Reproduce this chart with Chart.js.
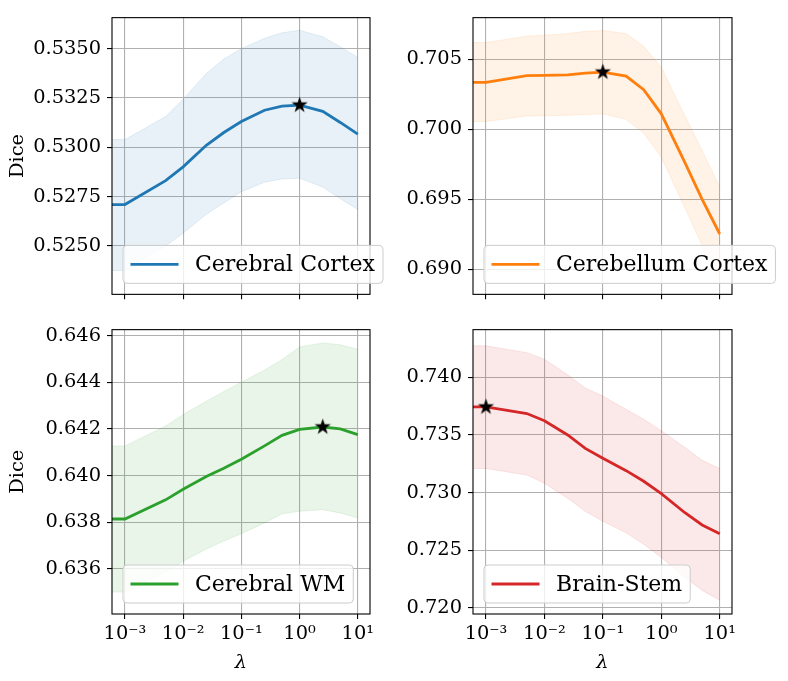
<!DOCTYPE html>
<html>
<head>
<meta charset="utf-8">
<script src="https://cdn.jsdelivr.net/npm/chart.js@4.4.1/dist/chart.umd.min.js"></script>
<style>
  html, body { margin:0; padding:0; background:#fff; }
  #fig { position:relative; width:788px; height:681px; overflow:hidden; }
  #fig canvas { position:absolute; }
</style>
</head>
<body>
<div id="fig">
  <canvas id="c0" width="392" height="312" style="left:0;top:0"></canvas>
  <canvas id="c1" width="396" height="312" style="left:392px;top:0"></canvas>
  <canvas id="c2" width="392" height="369" style="left:0;top:312px"></canvas>
  <canvas id="c3" width="396" height="369" style="left:392px;top:312px"></canvas>
</div>
<script>
// lambda values (first one sits left of the visible range)
const lambdas = [1e-4, 1e-3, 5e-3, 1e-2, 2.5e-2, 5e-2, 0.1, 0.25, 0.5, 1, 2.5, 5, 10];
const xTicks = [1e-3, 1e-2, 1e-1, 1, 10];
const xTickLabels = ['10⁻³', '10⁻²', '10⁻¹', '10⁰', '10¹'];

// Cerebral Cortex
const cortexMean  = [0.52710, 0.52710, 0.52831, 0.52901, 0.53010, 0.53075, 0.53131, 0.53188, 0.53209, 0.53214, 0.53182, 0.53126, 0.53067];
const cortexUpper = [0.53039, 0.53039, 0.53156, 0.53244, 0.53374, 0.53447, 0.53500, 0.53552, 0.53580, 0.53593, 0.53560, 0.53510, 0.53455];
const cortexLower = [0.52376, 0.52376, 0.52500, 0.52565, 0.52661, 0.52718, 0.52775, 0.52823, 0.52840, 0.52843, 0.52799, 0.52740, 0.52685];
const cortexTicks = ['0.5250', '0.5275', '0.5300', '0.5325', '0.5350'];

// Cerebellum Cortex
const cerebMean  = [0.70335, 0.70335, 0.70383, 0.70385, 0.70389, 0.70401, 0.70408, 0.70379, 0.70282, 0.70110, 0.69767, 0.69500, 0.69252];
const cerebUpper = [0.70619, 0.70619, 0.70665, 0.70672, 0.70683, 0.70699, 0.70706, 0.70683, 0.70592, 0.70443, 0.70100, 0.69848, 0.69589];
const cerebLower = [0.70055, 0.70055, 0.70094, 0.70096, 0.70100, 0.70105, 0.70110, 0.70069, 0.69972, 0.69800, 0.69443, 0.69168, 0.68916];
const cerebTicks = ['0.690', '0.695', '0.700', '0.705'];

// Cerebral WM
const wmMean  = [0.63814, 0.63814, 0.63896, 0.63941, 0.63996, 0.64031, 0.64070, 0.64127, 0.64172, 0.64198, 0.64208, 0.64200, 0.64175];
const wmUpper = [0.64127, 0.64127, 0.64212, 0.64261, 0.64318, 0.64360, 0.64400, 0.64452, 0.64497, 0.64551, 0.64568, 0.64560, 0.64541];
const wmLower = [0.63501, 0.63501, 0.63586, 0.63633, 0.63685, 0.63720, 0.63751, 0.63797, 0.63836, 0.63847, 0.63854, 0.63840, 0.63818];
const wmTicks = ['0.636', '0.638', '0.640', '0.642', '0.644', '0.646'];

// Brain-Stem
const stemMean  = [0.73743, 0.73743, 0.73686, 0.73623, 0.73500, 0.73383, 0.73298, 0.73190, 0.73098, 0.72990, 0.72827, 0.72719, 0.72642];
const stemUpper = [0.74274, 0.74274, 0.74214, 0.74157, 0.74022, 0.73908, 0.73837, 0.73722, 0.73637, 0.73537, 0.73394, 0.73280, 0.73209];
const stemLower = [0.73209, 0.73209, 0.73152, 0.73080, 0.72951, 0.72837, 0.72751, 0.72651, 0.72551, 0.72437, 0.72266, 0.72151, 0.72066];
const stemTicks = ['0.720', '0.725', '0.730', '0.735', '0.740'];

const names = ['Cerebral Cortex', 'Cerebellum Cortex', 'Cerebral WM', 'Brain-Stem'];
const bestLambda = [1, 0.1, 2.5, 1e-3];
const yRanges = [[0.52255, 0.53657], [0.68821, 0.70797], [0.63407, 0.64625], [0.71946, 0.74414]];
const xRange = [6.3e-4, 16.2];

const FONT = 'DejaVu Serif';

function makeStar(r) {
  const s = Math.ceil(r * 2 + 2);
  const c = document.createElement('canvas');
  c.width = s; c.height = s;
  const g = c.getContext('2d');
  g.beginPath();
  for (let i = 0; i < 10; i++) {
    const rad = i % 2 === 0 ? r : r * 0.382;
    const a = -Math.PI / 2 + i * Math.PI / 5;
    g.lineTo(s / 2 + rad * Math.cos(a), s / 2 + rad * Math.sin(a));
  }
  g.closePath();
  g.fillStyle = '#000';
  g.fill();
  return c;
}
const star = makeStar(8.5);

// frame round the axes + matplotlib-like legend box
const boxPlugin = {
  id: 'boxLegend',
  afterDatasetsDraw(chart) {
    const {ctx, chartArea: a} = chart;
    ctx.save();
    ctx.strokeStyle = '#000';
    ctx.lineWidth = 1.1;
    ctx.strokeRect(a.left, a.top, a.right - a.left, a.bottom - a.top);
    ctx.restore();
  },
  afterDraw(chart, args, opts) {
    const {ctx, chartArea: a} = chart;
    ctx.save();
    ctx.font = opts.size + 'px "' + FONT + '"';
    const tw = ctx.measureText(opts.label).width;
    const h = 38, x = a.left + 11, y = a.bottom - 11 - h;
    const w = 7.5 + 48 + 16.5 + tw + 8;
    ctx.beginPath();
    ctx.roundRect(x, y, w, h, 4);
    ctx.fillStyle = 'rgba(255,255,255,0.8)';
    ctx.fill();
    ctx.strokeStyle = '#cccccc';
    ctx.lineWidth = 1;
    ctx.stroke();
    ctx.beginPath();
    ctx.moveTo(x + 7.5, y + h / 2);
    ctx.lineTo(x + 55.5, y + h / 2);
    ctx.strokeStyle = opts.color;
    ctx.lineWidth = 2.8;
    ctx.stroke();
    ctx.fillStyle = '#000';
    ctx.textBaseline = 'middle';
    ctx.fillText(opts.label, x + 72, y + h / 2 + 1);
    ctx.restore();
  }
};

function pts(vals) { return lambdas.map((x, i) => ({x, y: vals[i]})); }

function panel(id, k, mean, upper, lower, yLabels, color, fillColor, o) {
  const bi = lambdas.indexOf(bestLambda[k]);
  new Chart(document.getElementById(id), {
    type: 'line',
    data: {
      datasets: [
        { data: [{x: bestLambda[k], y: mean[bi]}], showLine: false, pointStyle: star, pointRadius: 8, clip: false },
        { data: pts(mean), borderColor: color, borderWidth: 2.8, pointRadius: 0, fill: false, clip: 0 },
        { data: pts(upper), borderColor: fillColor, backgroundColor: fillColor, borderWidth: 1, pointRadius: 0, fill: '+1', clip: 0 },
        { data: pts(lower), borderColor: fillColor, borderWidth: 1, pointRadius: 0, fill: false, clip: 0 }
      ]
    },
    options: {
      responsive: false,
      animation: false,
      events: [],
      layout: { padding: { left: 0, top: o.top, right: o.right, bottom: 0 } },
      plugins: {
        legend: { display: false },
        tooltip: { enabled: false },
        boxLegend: { label: names[k], color: color, size: 22 }
      },
      scales: {
        x: {
          type: 'logarithmic', min: xRange[0], max: xRange[1],
          afterBuildTicks: s => { s.ticks = xTicks.map(v => ({value: v})); },
          afterFit: s => { s.height = o.xh; },
          grid: { color: '#b0b0b0', lineWidth: 1.1, tickLength: 5, tickColor: '#000', tickWidth: 1.1 },
          border: { display: false },
          ticks: { display: o.xLabels, autoSkip: false, maxRotation: 0, padding: 3, color: '#000',
                   font: { family: FONT, size: 19.4 }, callback: (v, i) => xTickLabels[i] },
          title: { display: o.xLabels, text: 'λ', color: '#000', padding: { top: 0, bottom: 6 },
                   font: { family: FONT, size: 19.4, style: 'italic' } }
        },
        y: {
          type: 'linear', min: yRanges[k][0], max: yRanges[k][1],
          afterBuildTicks: s => { s.ticks = yLabels.map(t => ({value: parseFloat(t)})); },
          afterFit: s => { s.width = o.yw; },
          grid: { color: '#b0b0b0', lineWidth: 1.1, tickLength: 5, tickColor: '#000', tickWidth: 1.1 },
          border: { display: false },
          ticks: { padding: 6, color: '#000', font: { family: FONT, size: 19.4 }, callback: (v, i) => yLabels[i] },
          title: { display: o.yTitle, text: 'Dice', color: '#000', padding: { top: 6, bottom: 0 },
                   font: { family: FONT, size: 19.4 } }
        }
      }
    },
    plugins: [boxPlugin]
  });
}

panel('c0', 0, cortexMean, cortexUpper, cortexLower, cortexTicks, '#1f77b4', 'rgba(31,119,180,0.1)',
      { top: 10, right: 22, xh: 15, yw: 112, xLabels: false, yTitle: true });
panel('c1', 1, cerebMean, cerebUpper, cerebLower, cerebTicks, '#ff7f0e', 'rgba(255,127,14,0.1)',
      { top: 10, right: 56, xh: 15, yw: 81, xLabels: false, yTitle: false });
panel('c2', 2, wmMean, wmUpper, wmLower, wmTicks, '#2ca02c', 'rgba(44,160,44,0.1)',
      { top: 14, right: 22, xh: 67, yw: 112, xLabels: true, yTitle: true });
panel('c3', 3, stemMean, stemUpper, stemLower, stemTicks, '#d62728', 'rgba(214,39,40,0.1)',
      { top: 14, right: 56, xh: 67, yw: 81, xLabels: true, yTitle: false });
</script>
</body>
</html>
